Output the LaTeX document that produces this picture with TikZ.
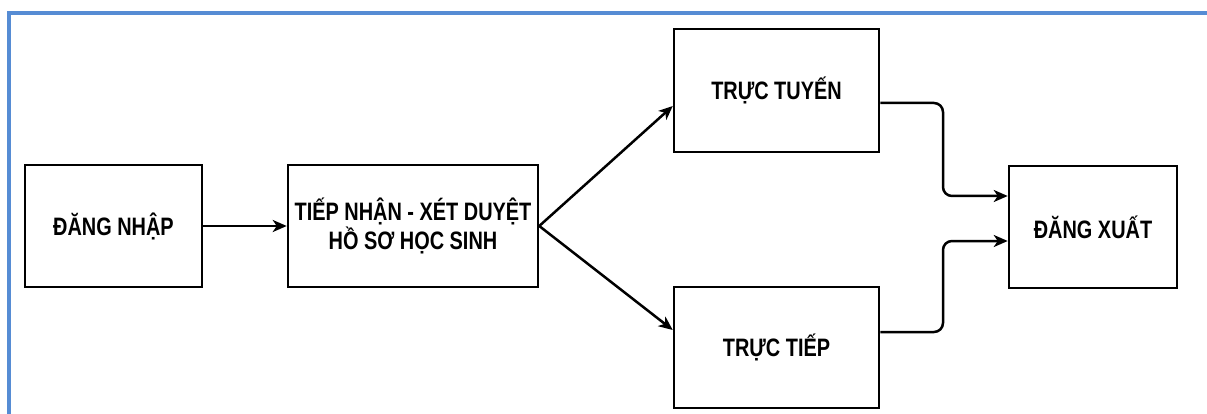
\documentclass[tikz,border=0pt]{standalone}
\usepackage{fontspec}
\setmainfont{Liberation Sans}
\usetikzlibrary{arrows.meta}
\definecolor{frameblue}{RGB}{86,140,212}
\newcommand{\sq}[1]{\scalebox{0.83}[1.05]{#1}}
\begin{document}
\begin{tikzpicture}[x=1pt,y=-1pt,
  box/.style={draw=black, line width=2.5pt, rectangle, inner sep=0pt,
    font=\bfseries\fontsize{24}{29}\selectfont, align=center},
  arr/.style={draw=black, line width=2.5pt, -{Stealth[length=14pt,width=12pt,inset=4pt]}},
  elbowarr/.style={arr, rounded corners=9pt}]
  \useasboundingbox (0,0) rectangle (1207,414);
  % frame
  \draw[frameblue, line width=4.5pt] (9,414) -- (9,13) -- (1207,13);
  % nodes
  \node[box, minimum width=177pt, minimum height=122pt] (dn) at (113.5,226) {\sq{ĐĂNG NHẬP}};
  \node[box, minimum width=250pt, minimum height=122pt] (tn) at (413,226) {\sq{TIẾP NHẬN - XÉT DUYỆT}\\\sq{HỒ SƠ HỌC SINH}};
  \node[box, minimum width=205pt, minimum height=123pt] (tt) at (776.5,90.5) {\sq{TRỰC TUYẾN}};
  \node[box, minimum width=205pt, minimum height=121pt] (tp) at (776.5,347.5) {\sq{TRỰC TIẾP}};
  \node[box, minimum width=168pt, minimum height=122pt] (dx) at (1093,227) {\sq{ĐĂNG XUẤT}};
  % connectors
  \draw[arr] (dn) -- (tn);
  \draw[arr] (tn.east) -- (tt.west |- 0,106);
  \draw[arr] (tn.east) -- (tp.west |- 0,330);
  \draw[elbowarr] (tt.east |- 0,103) -- (943,103) -- (943,196) -- (dx.west |- 0,196);
  \draw[elbowarr] (tp.east |- 0,332) -- (943,332) -- (943,241) -- (dx.west |- 0,241);
\end{tikzpicture}
\end{document}
